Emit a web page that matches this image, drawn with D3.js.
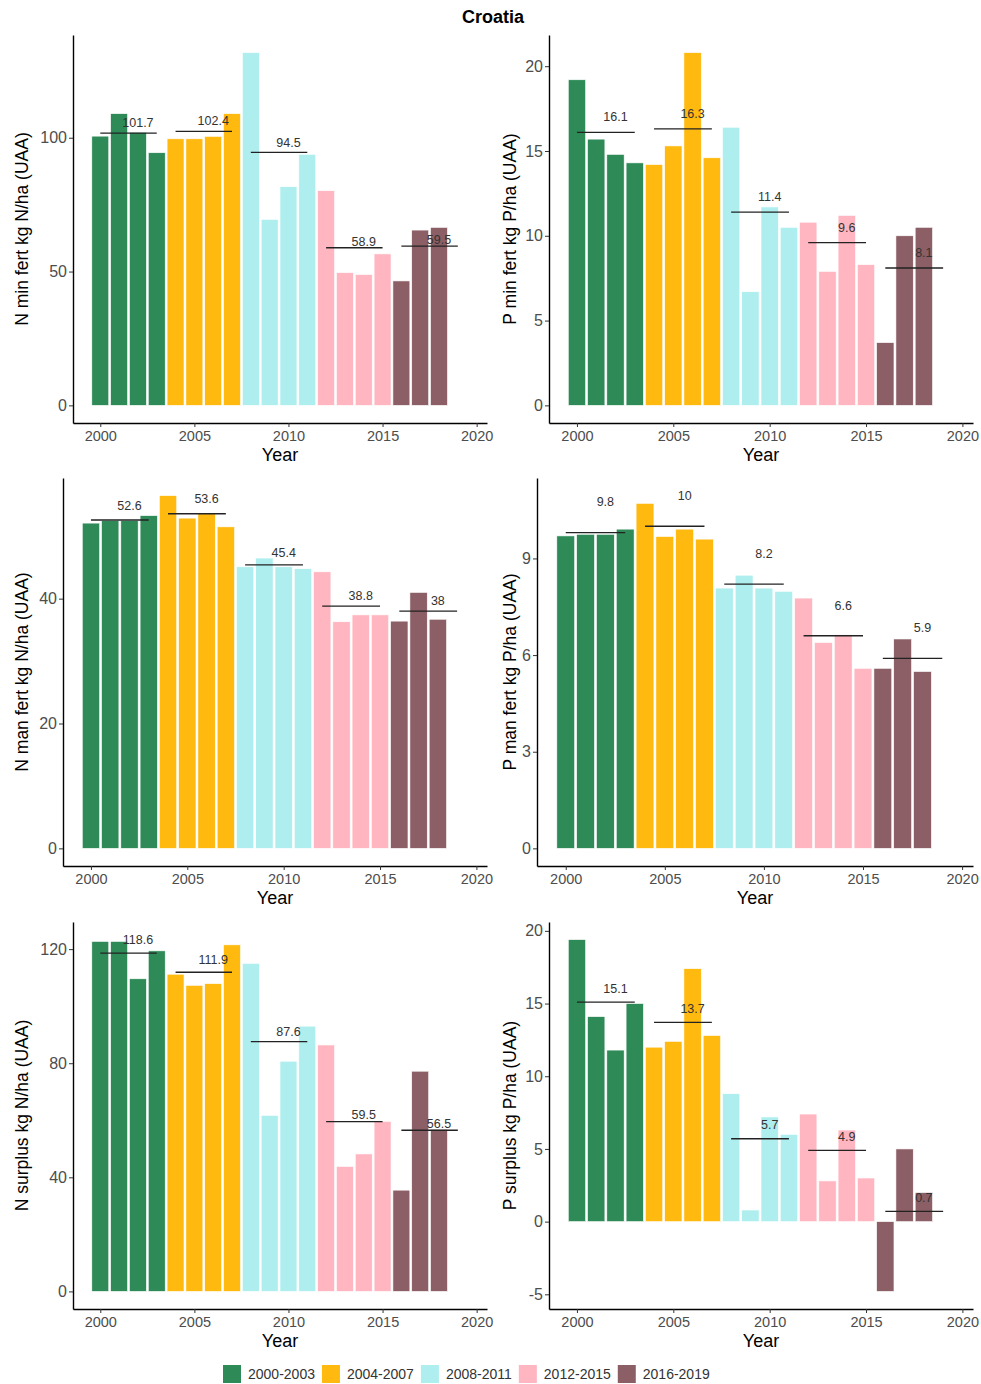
<!DOCTYPE html>
<html>
<head>
<meta charset="utf-8">
<script src="https://cdn.jsdelivr.net/npm/d3@7"></script>
<style>
  body { margin: 0; background: #fff; }
  text { font-family: "Liberation Sans", Arial, sans-serif; }
</style>
</head>
<body>
<div id="chart"></div>
<script>
// years and the 4-year periods they fall in
var years = [2000, 2001, 2002, 2003, 2004, 2005, 2006, 2007, 2008, 2009,
             2010, 2011, 2012, 2013, 2014, 2015, 2016, 2017, 2018];
var periods = ["2000-2003", "2004-2007", "2008-2011", "2012-2015", "2016-2019"];
var periodStarts = [2000, 2004, 2008, 2012, 2016];
var xTicks = [2000, 2005, 2010, 2015, 2020];

// values
var nMinFert = [100.6, 109, 102, 94.4, 99.6, 99.6, 100.5, 109, 131.8, 69.5,
                81.7, 93.8, 80.2, 49.6, 48.9, 56.6, 46.5, 65.5, 66.5];
var nMinFertMean = [101.7, 102.4, 94.5, 58.9, 59.5];

var pMinFert = [19.2, 15.7, 14.8, 14.3, 14.2, 15.3, 20.8, 14.6, 16.4, 6.7,
                11.7, 10.5, 10.8, 7.9, 11.2, 8.3, 3.7, 10.0, 10.5];
var pMinFertMean = [16.1, 16.3, 11.4, 9.6, 8.1];

var nManFert = [52.1, 52.5, 52.5, 53.3, 56.5, 52.9, 53.6, 51.5, 45.1, 46.5,
                45.1, 44.8, 44.3, 36.3, 37.4, 37.4, 36.4, 41.0, 36.7];
var nManFertMean = [52.6, 53.6, 45.4, 38.8, 38];

var pManFert = [9.70, 9.75, 9.75, 9.91, 10.71, 9.68, 9.91, 9.60, 8.08, 8.48,
                8.08, 7.98, 7.77, 6.39, 6.63, 5.59, 5.59, 6.50, 5.49];
var pManFertMean = [9.8, 10, 8.2, 6.6, 5.9];

var nSurplus = [122.7, 122.7, 109.6, 119.4, 111.2, 107.3, 107.9, 121.5, 115.0, 61.7,
                80.7, 93.0, 86.4, 43.8, 48.2, 59.6, 35.5, 77.2, 56.8];
var nSurplusMean = [118.6, 111.9, 87.6, 59.5, 56.5];

var pSurplus = [19.4, 14.1, 11.8, 15.0, 12.0, 12.4, 17.4, 12.8, 8.8, 0.8,
                7.2, 6.0, 7.4, 2.8, 6.3, 3.0, -4.8, 5.0, 2.0];
var pSurplusMean = [15.1, 13.7, 5.7, 4.9, 0.7];

var colors = ["#2E8B57", "#FFB90F", "#AEEEEE", "#FFB6C1", "#8B5F65"];

var W = 981, H = 1384;

var svg = d3.select("#chart").append("svg")
    .attr("width", W)
    .attr("height", H)
    .style("background-color", "white");

svg.append("text")
    .attr("x", 493)
    .attr("y", 23)
    .attr("text-anchor", "middle")
    .style("font-size", "18px")
    .style("font-weight", "bold")
    .text("Croatia");

// box = [left, top, right, bottom] of the plotting area
var panels = [
    { values: nMinFert, means: nMinFertMean, yTicks: [0, 50, 100],
      title: "N min fert kg N/ha (UAA)", box: [73, 35, 487, 423], titleX: 22,
      nudge: function(m) { return m * 0.04; } },
    { values: pMinFert, means: pMinFertMean, yTicks: [0, 5, 10, 15, 20],
      title: "P min fert kg P/ha (UAA)", box: [549, 35, 973, 423], titleX: 510,
      nudge: function(m) { return 0.9; } },
    { values: nManFert, means: nManFertMean, yTicks: [0, 20, 40],
      title: "N man fert kg N/ha (UAA)", box: [63, 478, 487, 866], titleX: 22,
      nudge: function(m) { return m * 0.045; } },
    { values: pManFert, means: pManFertMean, yTicks: [0, 3, 6, 9],
      title: "P man fert kg P/ha (UAA)", box: [537, 478, 973, 866], titleX: 510,
      nudge: function(m) { return 0.95; } },
    { values: nSurplus, means: nSurplusMean, yTicks: [0, 40, 80, 120],
      title: "N surplus kg N/ha (UAA)", box: [73, 922, 487, 1309], titleX: 22,
      nudge: function(m) { return m * 0.04; } },
    { values: pSurplus, means: pSurplusMean, yTicks: [-5, 0, 5, 10, 15, 20],
      title: "P surplus kg P/ha (UAA)", box: [549, 922, 973, 1309], titleX: 510,
      nudge: function(m) { return 0.95; } }
];

panels.forEach(drawPanel);

function drawPanel(p) {
    var left = p.box[0], top = p.box[1], right = p.box[2], bottom = p.box[3];

    var labelYs = p.means.map(function(m) { return m + p.nudge(m); });
    var lo = Math.min(0, d3.min(p.values), d3.min(labelYs));
    var hi = Math.max(d3.max(p.values), d3.max(labelYs));
    var pad = (hi - lo) * 0.05;

    var x = d3.scaleLinear().domain([1998.55, 2020.55]).range([left, right]);
    var y = d3.scaleLinear().domain([lo - pad, hi + pad]).range([bottom, top]);

    var g = svg.append("g");

    var rows = years.map(function(yr, i) {
        return { year: yr, value: p.values[i], period: Math.floor((yr - 2000) / 4) };
    });

    g.append("g")
        .attr("class", "bars")
        .selectAll("rect")
        .data(rows)
        .enter()
        .append("rect")
        .attr("x", function(d) { return x(d.year - 0.45); })
        .attr("width", function(d) { return x(d.year + 0.45) - x(d.year - 0.45); })
        .attr("y", function(d) { return y(Math.max(0, d.value)); })
        .attr("height", function(d) { return Math.abs(y(d.value) - y(0)); })
        .attr("fill", function(d) { return colors[d.period]; })
        .attr("stroke", "#FFFFFF")
        .attr("stroke-width", 0.6);

    var means = p.means.map(function(m, i) {
        return { start: periodStarts[i], mean: m, labelY: labelYs[i] };
    });

    g.append("g")
        .attr("class", "means")
        .selectAll("line")
        .data(means)
        .enter()
        .append("line")
        .attr("x1", function(d) { return x(d.start); })
        .attr("x2", function(d) { return x(d.start + 3); })
        .attr("y1", function(d) { return y(d.mean); })
        .attr("y2", function(d) { return y(d.mean); })
        .style("stroke", "#222")
        .style("stroke-width", 1.3);

    g.append("g")
        .attr("class", "mean-labels")
        .selectAll("text")
        .data(means)
        .enter()
        .append("text")
        .attr("x", function(d) { return x(d.start + 2); })
        .attr("y", function(d) { return y(d.labelY); })
        .attr("dy", "0.35em")
        .attr("text-anchor", "middle")
        .style("font-size", "12.5px")
        .style("fill", "#333")
        .text(function(d) { return d.mean; });

    var xAxis = g.append("g")
        .attr("transform", "translate(0," + bottom + ")")
        .call(d3.axisBottom(x).tickValues(xTicks).tickFormat(function(d) { return String(d); })
              .tickSizeInner(4).tickSizeOuter(0));
    xAxis.select(".domain").attr("stroke", "#000").attr("stroke-width", 1.4);
    xAxis.selectAll(".tick line").attr("stroke", "#333");
    xAxis.selectAll(".tick text")
        .attr("fill", "#4D4D4D")
        .attr("y", 8)
        .style("font-size", "14.5px")
        .style("font-family", "'Liberation Sans', Arial, sans-serif");

    // plain hyphen for negatives, as in the original
    var yAxis = g.append("g")
        .attr("transform", "translate(" + left + ",0)")
        .call(d3.axisLeft(y).tickValues(p.yTicks).tickFormat(function(d) { return String(d); })
              .tickSizeInner(4).tickSizeOuter(0));
    yAxis.select(".domain").attr("stroke", "#000").attr("stroke-width", 1.4);
    yAxis.selectAll(".tick line").attr("stroke", "#333");
    yAxis.selectAll(".tick text")
        .attr("fill", "#4D4D4D")
        .attr("x", -6)
        .style("font-size", "16px")
        .style("font-family", "'Liberation Sans', Arial, sans-serif");

    g.append("text")
        .attr("x", (left + right) / 2)
        .attr("y", bottom + 38)
        .attr("text-anchor", "middle")
        .style("font-size", "18px")
        .text("Year");

    g.append("text")
        .attr("transform", "translate(" + p.titleX + "," + ((top + bottom) / 2) + ") rotate(-90)")
        .attr("text-anchor", "middle")
        .attr("dy", "0.35em")
        .style("font-size", "17.5px")
        .text(p.title);
}

// legend at the bottom
var legend = svg.append("g").attr("class", "legend");
var lx = 223;
periods.forEach(function(name, i) {
    legend.append("rect")
        .attr("x", lx)
        .attr("y", 1365)
        .attr("width", 18)
        .attr("height", 18)
        .attr("fill", colors[i]);
    var t = legend.append("text")
        .attr("x", lx + 25)
        .attr("y", 1374)
        .attr("dy", "0.35em")
        .style("font-size", "14px")
        .style("fill", "#333")
        .text(name);
    lx = lx + 25 + t.node().getComputedTextLength() + 7;
});
</script>
</body>
</html>
